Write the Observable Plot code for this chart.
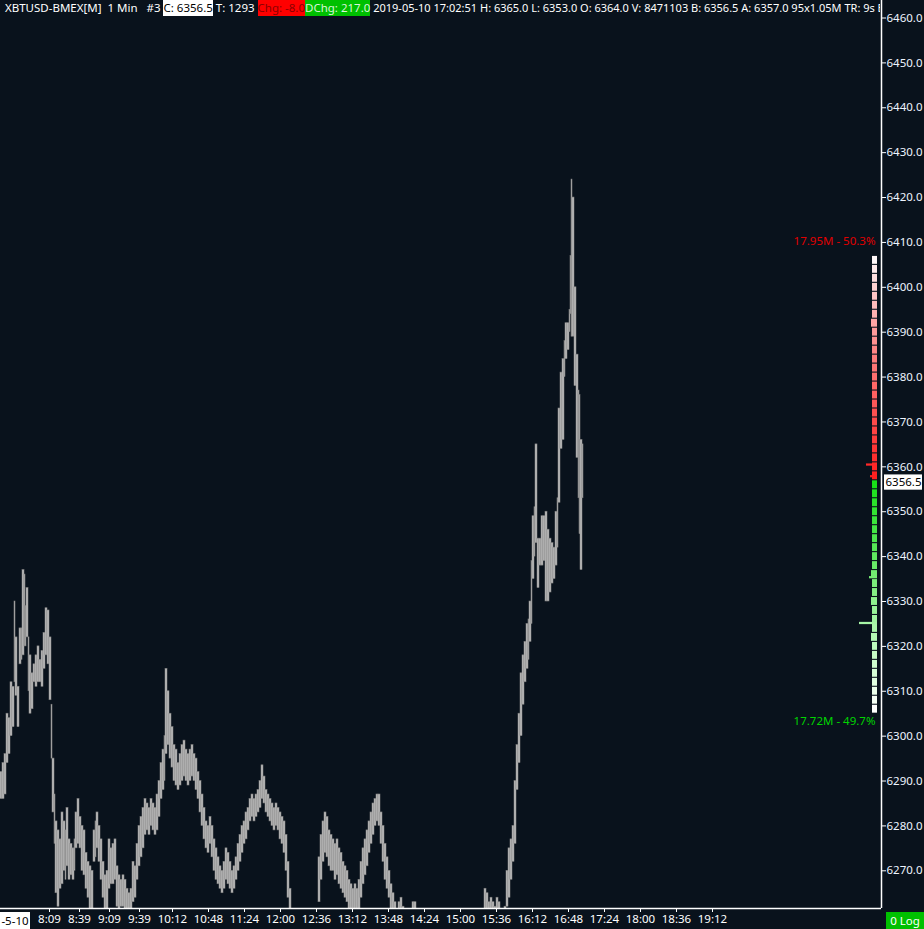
<!DOCTYPE html>
<html><head><meta charset="utf-8">
<script src="https://cdn.jsdelivr.net/npm/d3@7"></script>
<script src="https://cdn.jsdelivr.net/npm/@observablehq/plot@0.6"></script>
<style>
html,body{margin:0;padding:0;background:#09121c;}
#wrap{position:relative;width:924px;height:929px;overflow:hidden;background:#09121c;}
#hdr{position:absolute;left:0;top:0;width:880px;height:16px;overflow:hidden;white-space:pre;font-family:"Noto Sans";font-size:11.5px;color:#fff;line-height:16px;padding-left:5px;box-sizing:border-box;}
#hdr span{display:inline-block;height:16px;}
#hdr span.tail{font-size:11px;}
.w{background:#fff;color:#000;}
.r{background:#ff0000;color:#8c0000;}
.g{background:#00c000;color:#d8f5d8;}
.box{position:absolute;font-family:"Noto Sans";font-size:11.5px;line-height:17px;white-space:pre;text-align:center;}
</style></head><body><div id="wrap"></div>
<script>
// ---- data ----
const headerParts = ["XBTUSD-BMEX[M]  1 Min   #3 ", "C: 6356.5", " T: 1293 ", "Chg: -8.0", "DChg: 217.0", " 2019-05-10 17:02:51 H: 6365.0 L: 6353.0 O: 6364.0 V: 8471103 B: 6356.5 A: 6357.0 95x1.05M TR: 9s BV"];
const headerStyles = ["", "w", "", "r", "g", "tail"];

// minutes since 07:20 (1 bar per minute)
const barMinute = [
  0,2,4,6,8,10,12,14,15,17,
  19,21,22,24,25,26,28,29,31,33,
  35,37,39,41,43,45,47,49,51,52,
  54,55,57,59,61,63,65,66,68,70,
  72,74,75,77,79,81,83,85,87,89,
  91,93,95,96,98,100,102,104,106,108,
  110,112,114,116,118,120,122,124,126,128,
  130,132,134,136,138,140,142,144,146,148,
  150,152,154,156,158,160,162,164,165,167,
  169,171,173,175,177,179,181,183,185,187,
  189,191,193,195,197,199,201,203,205,207,
  209,211,213,215,217,219,221,223,225,227,
  229,231,233,235,237,239,241,243,245,247,
  249,251,253,255,257,259,261,263,265,267,
  269,271,273,275,277,279,281,283,285,287,
  289,291,295,300,305,310,315,318,320,322,
  324,326,328,330,332,334,336,338,340,342,
  344,346,348,350,352,354,356,358,360,362,
  364,366,368,370,372,374,376,378,380,382,
  384,386,388,390,392,394,396,398,400,402,
  404,408,412,414,416,420,430,440,450,460,
  470,480,484,486,488,490,492,494,496,498,
  500,502,504,506,508,510,512,514,516,518,
  520,522,524,526,528,529,531,532,534,535,
  537,539,541,543,545,547,549,551,553,555,
  557,558,560,562,564,565,567,569,570,571,
  572,574,576,578,579,580,582
];
const barHigh = [
  6292,6294,6296,6305,6304,6312,6311,6330,6322,6311,
  6324,6324,6337,6336,6329,6333,6322,6318,6314,6316,
  6318,6320,6317,6319,6323,6328.5,6328,6322,6307,6295,
  6287,6281,6279,6277,6283,6281,6279,6284,6277,6276,
  6275,6277,6283,6286,6282,6280,6279,6274,6272,6271,
  6270,6279,6281,6283,6280,6277,6272,6269,6270,6277,
  6275,6276,6277,6271,6269,6268,6269,6268,6266,6265,
  6266,6272,6271,6276,6280,6282,6284,6286,6285,6284,
  6286,6285,6284,6287,6290,6294,6297,6300,6315,6310,
  6305,6302,6298,6297,6294,6296,6298,6299,6297,6296,
  6297,6298,6296,6295,6292,6290,6287,6284,6281,6280,
  6282,6280,6277,6275,6273,6271,6270,6272,6275,6274,
  6272,6270,6271,6273,6276,6278,6280,6281,6283,6284,
  6286,6287,6286,6287,6288,6290,6293.5,6291,6288,6287,
  6286,6285,6284,6285,6284,6283,6282,6281,6278,6272,
  6266,6260,6258,6256,6255,6257,6259,6273,6278,6281,
  6283,6282,6279,6278,6277,6276,6277,6275,6274,6272,
  6271,6270,6268,6267,6266,6267,6266,6268,6272,6275,
  6277,6279,6281,6283,6285,6286,6287,6287,6283,6280,
  6276,6273,6270,6267,6265,6263,6260,6263,6264,6262,
  6259,6258,6263,6263,6259,6255,6252,6250,6249,6251,
  6253,6257,6266,6265,6263,6264,6263,6262,6264,6263,
  6260,6259,6262,6270,6275,6277,6280,6290,6298,6305,
  6314,6318,6321,6325,6326,6330,6339,6349,6351,6365,
  6344,6344,6349,6349,6350,6346,6344,6343,6342,6350,
  6353,6373,6381,6384,6388,6392,6392,6395,6407,6424,
  6420,6400,6385,6377,6376,6366,6365
];
const barLow = [
  6286,6286,6287,6294,6296,6300,6302,6312,6309,6302,
  6316,6317,6318,6320,6320,6322,6310,6305,6306,6312,
  6311,6312,6312,6311,6315,6318,6316,6308,6295,6283,
  6276,6265,6262,6266,6267,6270,6268,6271,6268,6269,
  6268,6270,6275,6276,6275,6270,6269,6266,6264,6261,
  6261,6272,6273,6275,6272,6268,6264,6261,6261,6266,
  6267,6267,6268,6262,6261,6262,6262,6261,6260,6261,
  6260,6263,6264,6268,6271,6273,6275,6278,6279,6278,
  6280,6279,6278,6279,6282,6286,6288,6290,6296,6298,
  6295,6293,6290,6289,6288,6289,6290,6291,6290,6289,
  6290,6291,6290,6288,6286,6283,6280,6277,6275,6274,
  6276,6273,6270,6268,6267,6266,6265,6266,6268,6267,
  6266,6265,6266,6268,6270,6272,6274,6276,6277,6279,
  6281,6282,6281,6282,6283,6284,6286,6285,6283,6282,
  6281,6280,6279,6280,6279,6277,6276,6274,6270,6264,
  6258,6255,6250,6248,6249,6250,6252,6263,6268,6272,
  6274,6273,6271,6270,6270,6268,6269,6267,6266,6265,
  6264,6263,6261,6260,6260,6261,6260,6261,6264,6267,
  6269,6271,6274,6276,6278,6280,6281,6280,6276,6272,
  6268,6266,6264,6261,6260,6258,6255,6257,6258,6257,
  6253,6252,6256,6257,6253,6249,6246,6244,6243,6245,
  6247,6251,6258,6259,6257,6258,6258,6257,6258,6257,
  6255,6254,6256,6262,6264,6268,6272,6276,6288,6294,
  6300,6307,6312,6315,6317,6321,6325,6335,6340,6343,
  6333,6338,6338,6339,6330,6330,6332,6334,6335,6338,
  6342,6352,6364,6366,6380,6384,6386,6390,6394,6389,
  6389,6378,6362,6353,6345,6337,6353
];
const lastClose = 6356.5;

// volume profile (2.0 price rows), relative widths
const profilePrice = d3.range(6306, 6407, 2);
const profileVolume = [
  5,5,5,5,5,5,5,5,6,5,
  5,5,6,5,5,6,5,5,5,5,
  5,5,5,5,5,5,5,5,5,5,
  5,5,5,5,5,5,5,5,5,5,
  5,5,5,6,5,5,5,5,5,5,5
];
const profileSplit = 6357;
const profileMarkPrice = [6360.4, 6357.8, 6335.3, 6325.1];
const profileMarkVolume = [11, 7, 8, 18];
const profileTotals = ["17.95M - 50.3%", "17.72M - 49.7%"];

// axes
const yTicks = d3.range(6270, 6461, 10);
const xTickLabels = ["8:09","8:39","9:09","9:39","10:12","10:48","11:24","12:00","12:36","13:12","13:48","14:24","15:00","15:36","16:12","16:48","17:24","18:00","18:36","19:12"];
const dateLabel = "-5-10";
const scaleLabel = "0 Log";

// ---- build ----
const startMin = 7 * 60 + 20;
const toMin = s => { const [h, m] = s.split(":").map(Number); return h * 60 + m - startMin; };
const xTickMinutes = xTickLabels.map(toMin);
const labelOf = new Map(xTickMinutes.map((m, i) => [m, xTickLabels[i]]));

const bars = barMinute.map((m, i) => ({
  x1: m, x2: i < barMinute.length - 1 ? barMinute[i + 1] : m + 1,
  high: barHigh[i], low: barLow[i]
}));

const xMax = 881, profRight = 877;
const redCol = d3.scaleLinear().domain([6357, 6370, 6385, 6398, 6407]).range(["#ff1c1c", "#ff4a4a", "#ff8080", "#ffc4c4", "#ffffff"]).clamp(true);
const greenCol = d3.scaleLinear().domain([6306, 6314, 6325, 6340, 6357]).range(["#ffffff", "#d6ffd6", "#a6f5a6", "#5ee85e", "#14e014"]).clamp(true);
const colOf = p => p >= profileSplit ? redCol(p) : greenCol(p);
const profile = profilePrice.map((p, i) => ({p, v: profileVolume[i]}));
const marks = profileMarkPrice.map((p, i) => ({p, v: profileMarkVolume[i]}));

const yLo = 6261.6, yHi = 6463.9;

const chart = Plot.plot({
  width: 924, height: 929,
  marginLeft: 0, marginRight: 43, marginTop: 0, marginBottom: 21,
  style: {background: "#09121c", color: "#ffffff", fontFamily: "Noto Sans", fontSize: "11px"},
  x: {type: "linear", domain: [0, xMax]},
  y: {type: "linear", domain: [yLo, yHi]},
  marks: [
    Plot.rect(bars, {x1: "x1", x2: "x2", y1: "low", y2: "high", fill: "#c4c4c4", stroke: "#7c7c7c", strokeWidth: 0.6, clip: true}),
    Plot.rect(profile, {x1: d => profRight - d.v, x2: profRight, y1: d => d.p - 0.88, y2: d => d.p + 0.88, fill: d => colOf(d.p)}),
    Plot.rect(marks, {x1: d => profRight - d.v, x2: profRight, y1: d => d.p - 0.25, y2: d => d.p + 0.25, fill: d => colOf(d.p)}),
    Plot.text([profileTotals[0]], {x: profRight - 2, y: 6410.3, text: d => d, textAnchor: "end", fill: "#e00000", fontSize: 11.5}),
    Plot.text([profileTotals[1]], {x: profRight - 2, y: 6303.4, text: d => d, textAnchor: "end", fill: "#00d400", fontSize: 11.5}),
    Plot.ruleX([xMax], {stroke: "#ffffff", strokeWidth: 1.5}),
    Plot.ruleY([yLo], {stroke: "#ffffff", strokeWidth: 1.5}),
    Plot.axisY(yTicks, {anchor: "right", tickSize: 4, tickPadding: 1, tickFormat: d => d.toFixed(1), stroke: "#ffffff", fill: "#eef4ff", label: null, fontSize: 11.5}),
    Plot.axisX(xTickMinutes, {anchor: "bottom", tickSize: 4, tickPadding: 2, tickFormat: d => labelOf.get(d), stroke: "#ffffff", fill: "#ffffff", label: null, fontSize: 11.5}),
    Plot.rect([lastClose], {x1: 884, x2: 922, y1: d => d - 1.7, y2: d => d + 1.7, fill: "#ffffff", clip: false}),
    Plot.text([lastClose], {x: 903, y: d => d, text: d => d.toFixed(1), fill: "#000000", fontSize: 11.5})
  ]
});

const wrap = document.getElementById("wrap");
wrap.appendChild(chart);

const hdr = document.createElement("div");
hdr.id = "hdr";
headerParts.forEach((t, i) => {
  const s = document.createElement("span");
  s.textContent = t;
  if (headerStyles[i]) s.className = headerStyles[i];
  hdr.appendChild(s);
});
wrap.appendChild(hdr);

const d1 = document.createElement("div");
d1.className = "box"; d1.textContent = dateLabel;
Object.assign(d1.style, {left: "0px", top: "912px", width: "30px", height: "17px", background: "#ffffff", color: "#000000"});
wrap.appendChild(d1);

const d2 = document.createElement("div");
d2.className = "box"; d2.textContent = scaleLabel;
Object.assign(d2.style, {left: "886px", top: "912px", width: "38px", height: "17px", background: "#00c000", color: "#ffffff"});
wrap.appendChild(d2);
</script>
</body></html>
